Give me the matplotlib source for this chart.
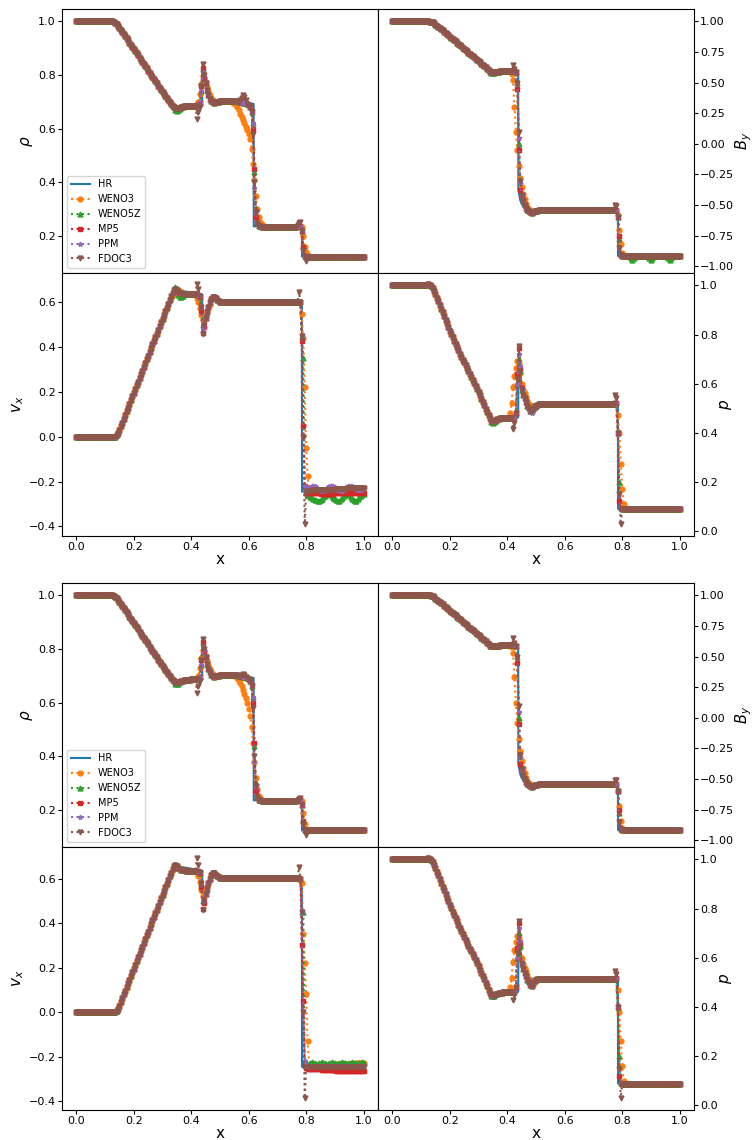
import numpy as np
import matplotlib
matplotlib.use("Agg")
import matplotlib.pyplot as plt

# cell centres of the runs (dx = 0.005)
x = np.linspace(0.0, 1.0, 201)

schemes = ["WENO3", "WENO5Z", "MP5", "PPM", "FDOC3"]
scheme_markers = ["o", "^", "s", "*", "v"]
scheme_colors = ["C1", "C2", "C3", "C4", "C5"]

# common numerical profiles
rho_base = ([1.0] * 26 +
            [0.998, 0.994, 0.988, 0.982, 0.975, 0.968, 0.960, 0.952, 0.944, 0.936,
             0.928, 0.920, 0.912, 0.904, 0.896, 0.888, 0.880, 0.872, 0.864, 0.856,
             0.848, 0.840, 0.832, 0.824, 0.816, 0.808, 0.800, 0.792, 0.784, 0.776,
             0.768, 0.760, 0.752, 0.745, 0.737, 0.730, 0.722, 0.715, 0.707, 0.700,
             0.692, 0.685, 0.679, 0.676, 0.675, 0.675, 0.677, 0.680, 0.682, 0.683,
             0.684, 0.685, 0.685, 0.685, 0.686, 0.686, 0.686, 0.686, 0.687, 0.688,
             0.695, 0.740, 0.830, 0.800, 0.770, 0.745, 0.725, 0.712, 0.703, 0.698,
             0.697, 0.698, 0.699, 0.700] +
            [0.701] * 13 +
            [0.700, 0.699, 0.698, 0.697, 0.696, 0.694, 0.692, 0.688, 0.680, 0.660,
             0.580, 0.400, 0.290, 0.250, 0.240, 0.237, 0.236] +
            [0.236] * 24 + [0.237, 0.238, 0.240, 0.220, 0.150, 0.128] + [0.125] * 41)

by_base = ([1.0] * 26 +
           [0.998, 0.995, 0.990, 0.982, 0.973, 0.964, 0.955, 0.945, 0.935, 0.925,
            0.915, 0.905, 0.895, 0.885, 0.875, 0.865, 0.855, 0.845, 0.835, 0.825,
            0.815, 0.805, 0.795, 0.785, 0.775, 0.765, 0.755, 0.745, 0.735, 0.725,
            0.715, 0.705, 0.695, 0.685, 0.675, 0.665, 0.655, 0.645, 0.635, 0.624,
            0.612, 0.600, 0.590, 0.584, 0.582, 0.583, 0.585, 0.588, 0.590, 0.591,
            0.592, 0.593, 0.593, 0.593, 0.594, 0.594, 0.594, 0.594, 0.594, 0.594,
            0.585, 0.500, 0.100, -0.300, -0.420, -0.470, -0.500, -0.525, -0.540, -0.552,
            -0.560, -0.562, -0.558, -0.552] +
           [-0.548, -0.545, -0.542] + [-0.54] * 53 +
           [-0.538, -0.600, -0.850, -0.910] + [-0.915] * 41)

vx_base = ([0.0] * 28 +
           [0.006, 0.015, 0.030, 0.046, 0.063, 0.080, 0.096, 0.113, 0.130, 0.146,
            0.163, 0.180, 0.196, 0.213, 0.229, 0.246, 0.262, 0.279, 0.295, 0.312,
            0.329, 0.345, 0.362, 0.378, 0.395, 0.412, 0.428, 0.445, 0.461, 0.478,
            0.494, 0.511, 0.528, 0.544, 0.561, 0.577, 0.594, 0.610, 0.627, 0.643,
            0.655, 0.659, 0.655, 0.648, 0.643, 0.640, 0.638, 0.637, 0.636, 0.636,
            0.636, 0.636, 0.636, 0.636, 0.636, 0.636, 0.636, 0.634, 0.625, 0.580,
            0.480, 0.500, 0.530, 0.555, 0.580, 0.600, 0.615, 0.624, 0.625, 0.618,
            0.610, 0.605] +
           [0.603] + [0.602] * 55 + [0.600, 0.450, 0.000, -0.220] +
           [-0.242] * 5 + [-0.240] * 8 + [-0.237] * 8 + [-0.234] * 8 + [-0.231] * 6 + [-0.229] * 6)

p_base = ([1.0] * 24 +
          [1.003, 1.004, 1.000, 0.996, 0.990, 0.978, 0.965, 0.950,
           0.935, 0.920, 0.905, 0.890, 0.875, 0.860, 0.845, 0.830, 0.816, 0.802,
           0.788, 0.774, 0.761, 0.748, 0.735, 0.722, 0.710, 0.698, 0.686, 0.674,
           0.662, 0.650, 0.638, 0.626, 0.614, 0.602, 0.590, 0.578, 0.566, 0.552,
           0.539, 0.525, 0.512, 0.498, 0.485, 0.471, 0.458, 0.449, 0.446, 0.448,
           0.452, 0.455, 0.457, 0.458, 0.459, 0.460, 0.460, 0.460, 0.460, 0.461,
           0.461, 0.461, 0.462, 0.463, 0.480, 0.600, 0.740, 0.650, 0.575, 0.555,
           0.540, 0.525, 0.510, 0.500, 0.490, 0.487, 0.495, 0.505] +
          [0.510, 0.514] + [0.516] * 54 + [0.520, 0.400, 0.150, 0.092] + [0.089] * 41)

# reference (HR) solution, break points
hr_rho_x = [0.0, 0.128, 0.14, 0.34, 0.36, 0.38, 0.438, 0.4385, 0.45, 0.47, 0.48, 0.617, 0.6175, 0.785, 0.7855, 1.0]
hr_rho = [1.0, 1.0, 0.99, 0.679, 0.677, 0.684, 0.687, 0.80, 0.77, 0.705, 0.698, 0.692, 0.237, 0.242, 0.125, 0.125]
hr_by_x = [0.0, 0.128, 0.14, 0.34, 0.36, 0.438, 0.4385, 0.445, 0.455, 0.47, 0.785, 0.7855, 1.0]
hr_by = [1.0, 1.0, 0.99, 0.59, 0.585, 0.594, -0.37, -0.46, -0.51, -0.54, -0.538, -0.915, -0.915]
hr_vx_x = [0.0, 0.135, 0.145, 0.34, 0.35, 0.438, 0.4385, 0.46, 0.475, 0.485, 0.50, 0.785, 0.7855, 1.0]
hr_vx = [0.0, 0.0, 0.015, 0.655, 0.655, 0.636, 0.51, 0.58, 0.62, 0.615, 0.602, 0.602, -0.245, -0.24]
hr_p_x = [0.0, 0.125, 0.14, 0.345, 0.36, 0.438, 0.4385, 0.45, 0.47, 0.785, 0.7855, 1.0]
hr_p = [1.0, 1.0, 0.99, 0.449, 0.452, 0.462, 0.66, 0.575, 0.515, 0.516, 0.089, 0.089]

# tails of the velocity behind the fast shock
weno5z_vx_tail_1 = [-0.250, -0.255, -0.262, -0.268, -0.272, -0.277, -0.281, -0.284, -0.286, -0.286,
                    -0.283, -0.277, -0.270, -0.263, -0.258, -0.255, -0.255, -0.258, -0.264, -0.272,
                    -0.279, -0.284, -0.286, -0.285, -0.280, -0.272, -0.264, -0.258, -0.255, -0.256,
                    -0.261, -0.268, -0.276, -0.282, -0.286, -0.285, -0.279, -0.271, -0.263, -0.258,
                    -0.255]
mp5_vx_tail_1 = [-0.252] * 10 + [-0.255] * 10 + [-0.253] * 10 + [-0.250] * 11
ppm_vx_tail_1 = [-0.240, -0.235, -0.228, -0.223, -0.220, -0.219, -0.220, -0.225, -0.232, -0.238,
                 -0.242, -0.243, -0.242, -0.238, -0.232, -0.226, -0.222, -0.220, -0.219, -0.220,
                 -0.224, -0.230, -0.236, -0.240, -0.242, -0.241, -0.238, -0.232, -0.226, -0.222,
                 -0.220, -0.219, -0.220, -0.223, -0.228, -0.233, -0.237, -0.238, -0.236, -0.232,
                 -0.228]
weno5z_vx_tail_2 = [-0.240, -0.235, -0.232, -0.228, -0.224, -0.226, -0.230, -0.233, -0.233, -0.230,
                    -0.226, -0.224, -0.226, -0.230, -0.233, -0.233, -0.230, -0.226, -0.224, -0.226,
                    -0.230, -0.233, -0.233, -0.230, -0.226, -0.224, -0.226, -0.230, -0.233, -0.233,
                    -0.230, -0.226, -0.224, -0.226, -0.230, -0.233, -0.233, -0.230, -0.226, -0.224,
                    -0.226]
mp5_vx_tail_2 = [-0.250] + [-0.255] * 10 + [-0.258] * 10 + [-0.262] * 10 + [-0.265] * 10
fdoc3_vx_tail_2 = [-0.245] * 41

# per-scheme departures from the common profile: (first x, values)
rho_fix_1 = {
    "WENO3": [(0.345, [0.672, 0.670, 0.672]),
              (0.42, [0.69, 0.70, 0.73, 0.765, 0.795, 0.79, 0.775, 0.755, 0.74, 0.725, 0.715, 0.705]),
              (0.545, [0.697, 0.694, 0.688, 0.679, 0.668, 0.656, 0.645, 0.633, 0.62, 0.607, 0.595,
                       0.58, 0.56, 0.525, 0.47, 0.41, 0.35, 0.30, 0.27, 0.255, 0.247, 0.24]),
              (0.785, [0.235, 0.20, 0.16, 0.14, 0.13])],
    "WENO5Z": [(0.345, [0.668, 0.666, 0.668, 0.672]), (0.44, [0.82]),
               (0.615, [0.62, 0.44, 0.30]), (0.79, [0.16])],
    "MP5": [(0.435, [0.76, 0.825, 0.79]), (0.61, [0.665, 0.60, 0.45, 0.27]), (0.79, [0.16])],
    "PPM": [(0.44, [0.81, 0.795, 0.775]), (0.615, [0.62, 0.38])],
    "FDOC3": [(0.42, [0.636, 0.66, 0.68, 0.76, 0.842]), (0.57, [0.705, 0.715, 0.725, 0.718, 0.705]),
              (0.77, [0.243, 0.248, 0.252]), (0.80, [0.11])],
}
by_fix_1 = {
    "WENO3": [(0.33, [0.615, 0.605, 0.594, 0.586, 0.58]),
              (0.41, [0.59, 0.57, 0.52, 0.30, 0.10, -0.05, -0.18, -0.28, -0.35, -0.41, -0.45,
                      -0.49, -0.515, -0.535]),
              (0.785, [-0.58, -0.70, -0.82, -0.89, -0.91])],
    "WENO5Z": [(0.345, [0.578, 0.575, 0.578]), (0.44, [0.0]), (0.79, [-0.78]),
               (0.83, [-0.935, -0.945, -0.935]), (0.895, [-0.935, -0.945, -0.935]),
               (0.96, [-0.935, -0.945, -0.935])],
    "MP5": [(0.435, [0.45, -0.05, -0.38]), (0.79, [-0.75])],
    "PPM": [(0.44, [0.05, -0.32])],
    "FDOC3": [(0.42, [0.645, 0.61]), (0.775, [-0.50, -0.51])],
}
vx_fix_1 = {
    "WENO3": [(0.33, [0.62, 0.635, 0.648, 0.655, 0.66, 0.657, 0.65]),
              (0.42, [0.62, 0.60, 0.575, 0.545, 0.52, 0.52, 0.535, 0.555, 0.575, 0.59]),
              (0.785, [0.546, 0.44, 0.22, -0.05, -0.176, -0.23])],
    "WENO5Z": [(0.335, [0.645, 0.66, 0.668, 0.66, 0.635, 0.625, 0.625, 0.63]), (0.44, [0.50]),
               (0.79, [0.35]), (0.80, weno5z_vx_tail_1)],
    "MP5": [(0.435, [0.56, 0.465, 0.49]), (0.785, [0.427, 0.05]), (0.80, mp5_vx_tail_1)],
    "PPM": [(0.80, ppm_vx_tail_1)],
    "FDOC3": [(0.42, [0.68, 0.66]), (0.44, [0.457]), (0.775, [0.646]), (0.795, [-0.39, -0.25])],
}
p_fix_1 = {
    "WENO3": [(0.41, [0.48, 0.52, 0.585, 0.63, 0.665, 0.69, 0.68, 0.645, 0.60, 0.575, 0.56,
                      0.545, 0.53, 0.515, 0.505, 0.50]),
              (0.785, [0.47, 0.40, 0.27, 0.17, 0.11, 0.092])],
    "WENO5Z": [(0.345, [0.443, 0.44, 0.442, 0.447]), (0.44, [0.70]), (0.79, [0.20])],
    "MP5": [(0.435, [0.64, 0.745, 0.66, 0.58]), (0.785, [0.40, 0.12])],
    "PPM": [(0.44, [0.72, 0.67]), (0.48, [0.485, 0.48])],
    "FDOC3": [(0.42, [0.415, 0.44]), (0.435, [0.62, 0.755]), (0.775, [0.553, 0.54]), (0.795, [0.027])],
}

rho_fix_2 = {
    "WENO3": [(0.42, [0.69, 0.70, 0.73, 0.765, 0.795, 0.79, 0.775, 0.755, 0.74, 0.725, 0.715, 0.705]),
              (0.555, [0.695, 0.69, 0.682, 0.672, 0.66, 0.647, 0.633, 0.618, 0.60, 0.578, 0.55,
                       0.51, 0.45, 0.38, 0.32, 0.28, 0.255, 0.245, 0.24]),
              (0.785, [0.235, 0.19, 0.15, 0.13])],
    "WENO5Z": [(0.345, [0.670, 0.668, 0.670]), (0.44, [0.82]), (0.615, [0.62, 0.44, 0.30]),
               (0.79, [0.16])],
    "MP5": [(0.435, [0.76, 0.825, 0.79]), (0.61, [0.665, 0.60, 0.45, 0.27]), (0.79, [0.16])],
    "PPM": [(0.44, [0.81, 0.795, 0.775]), (0.615, [0.62, 0.38])],
    "FDOC3": [(0.42, [0.636, 0.66, 0.68, 0.76, 0.835]), (0.575, [0.703, 0.706, 0.702]),
              (0.775, [0.243, 0.246]), (0.80, [0.11])],
}
by_fix_2 = {
    "WENO3": [(0.41, [0.59, 0.575, 0.53, 0.33, 0.12, -0.04, -0.17, -0.27, -0.35, -0.41, -0.45,
                      -0.49, -0.515, -0.535]),
              (0.785, [-0.60, -0.72, -0.84, -0.90])],
    "WENO5Z": [(0.44, [0.0]), (0.79, [-0.78])],
    "MP5": [(0.435, [0.45, -0.05, -0.38]), (0.79, [-0.75])],
    "PPM": [(0.44, [0.05, -0.32])],
    "FDOC3": [(0.42, [0.65, 0.61]), (0.775, [-0.505, -0.51])],
}
vx_fix_2 = {
    "WENO3": [(0.42, [0.625, 0.61, 0.585, 0.55, 0.52, 0.52, 0.54, 0.56, 0.58, 0.595]),
              (0.785, [0.58, 0.35, 0.22, 0.08, -0.13, -0.235])],
    "WENO5Z": [(0.44, [0.50]), (0.79, [0.45]), (0.80, weno5z_vx_tail_2)],
    "MP5": [(0.435, [0.56, 0.465, 0.49]), (0.785, [0.30, 0.05]), (0.795, [-0.24]), (0.80, mp5_vx_tail_2)],
    "PPM": [(0.44, [0.50]), (0.80, [-0.24] * 41)],
    "FDOC3": [(0.42, [0.69, 0.66]), (0.44, [0.461]), (0.775, [0.65]), (0.795, [-0.385]),
              (0.80, fdoc3_vx_tail_2)],
}
p_fix_2 = {
    "WENO3": [(0.41, [0.48, 0.52, 0.585, 0.63, 0.665, 0.69, 0.68, 0.645, 0.60, 0.575, 0.56,
                      0.545, 0.53, 0.515, 0.505, 0.50]),
              (0.785, [0.47, 0.38, 0.26, 0.16, 0.10, 0.092])],
    "WENO5Z": [(0.345, [0.445, 0.443, 0.445]), (0.44, [0.70]), (0.79, [0.20])],
    "MP5": [(0.435, [0.64, 0.74, 0.66, 0.58]), (0.785, [0.40, 0.12])],
    "PPM": [(0.44, [0.72, 0.67])],
    "FDOC3": [(0.42, [0.43, 0.45]), (0.435, [0.62, 0.75]), (0.775, [0.545, 0.535]), (0.795, [0.03])],
}


def make(base, fix):
    y = np.array(base, dtype=float)
    for x0, vals in fix:
        i0 = int(round(x0 * 200))
        y[i0:i0 + len(vals)] = vals
    return y


def panel(ax, hr_x, hr_y, base, fixes):
    ax.plot(hr_x, hr_y, color="C0", lw=1.5, label="HR")
    for name, m, c in zip(schemes, scheme_markers, scheme_colors):
        ax.plot(x, make(base, fixes.get(name, [])), ls=":", marker=m, ms=3.5,
                color=c, label=name)
    ax.tick_params(labelsize=8, length=3, pad=1.5)


fig = plt.figure(figsize=(7.52, 11.4), dpi=100)


def block(top, bottom, rho_fix, by_fix, vx_fix, p_fix):
    gs = fig.add_gridspec(2, 2, left=0.0824, right=0.9229, top=top, bottom=bottom,
                          hspace=0, wspace=0)
    ax_rho = fig.add_subplot(gs[0, 0])
    ax_by = fig.add_subplot(gs[0, 1], sharex=ax_rho)
    ax_vx = fig.add_subplot(gs[1, 0], sharex=ax_rho)
    ax_p = fig.add_subplot(gs[1, 1], sharex=ax_rho)

    panel(ax_rho, hr_rho_x, hr_rho, rho_base, rho_fix)
    panel(ax_by, hr_by_x, hr_by, by_base, by_fix)
    panel(ax_vx, hr_vx_x, hr_vx, vx_base, vx_fix)
    panel(ax_p, hr_p_x, hr_p, p_base, p_fix)

    ax_by.set_ylim(-1.05, 1.10)

    for ax in (ax_by, ax_p):
        ax.yaxis.tick_right()
        ax.yaxis.set_label_position("right")
    for ax in (ax_rho, ax_by):
        ax.tick_params(axis="x", bottom=False, labelbottom=False)

    ax_rho.set_ylabel(r"$\rho$", fontsize=11, labelpad=2)
    ax_by.set_ylabel(r"$B_y$", fontsize=10.5, labelpad=-1)
    ax_vx.set_ylabel(r"$v_x$", fontsize=11, labelpad=2)
    ax_p.set_ylabel(r"$p$", fontsize=11, labelpad=0)
    ax_vx.set_xlabel("x", fontsize=11, labelpad=0)
    ax_p.set_xlabel("x", fontsize=11, labelpad=0)

    ax_rho.legend(loc="lower left", fontsize=7)


block(0.9921, 0.5298, rho_fix_1, by_fix_1, vx_fix_1, p_fix_1)
block(0.4886, 0.0263, rho_fix_2, by_fix_2, vx_fix_2, p_fix_2)

fig.savefig("out.png", dpi=100)
